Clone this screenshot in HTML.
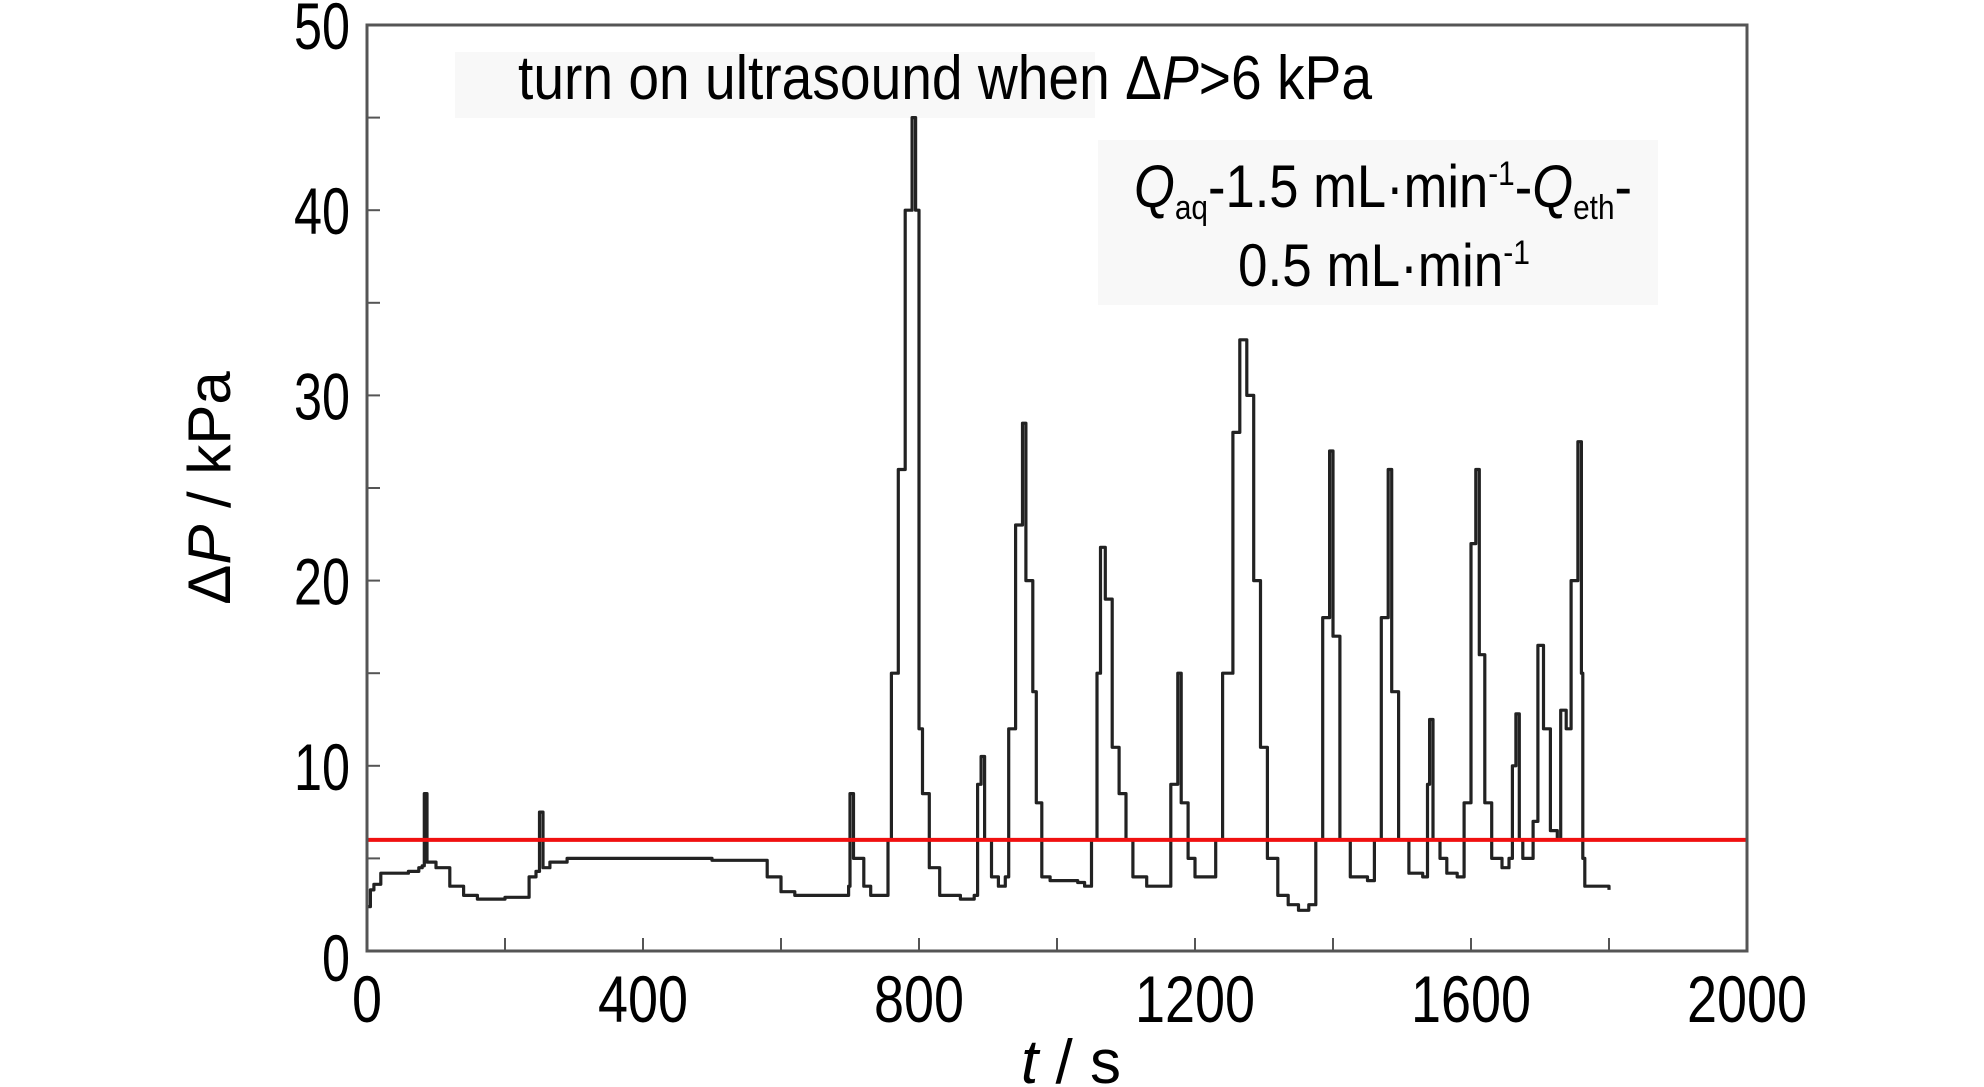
<!DOCTYPE html>
<html><head><meta charset="utf-8"><style>
html,body{margin:0;padding:0;background:#fff;}
svg{display:block;font-family:"Liberation Sans",sans-serif;}
</style></head><body>
<svg id="chart" width="1984" height="1087" viewBox="0 0 1984 1087" xmlns="http://www.w3.org/2000/svg">
<rect x="455" y="52" width="640" height="66" fill="#f8f8f8"/>
<rect x="1098" y="140" width="560" height="165" fill="#f8f8f8"/>
<g id="ticks"></g>
<path id="series" fill="none" stroke="#222" stroke-width="3.2" stroke-linejoin="round"/>
<line id="threshold" stroke="#f01010" stroke-width="4"/>
<rect x="367" y="25" width="1380" height="926" fill="none" stroke="#555" stroke-width="3"/>
<text x="518" y="99" font-size="62" textLength="854" lengthAdjust="spacingAndGlyphs">turn on ultrasound when Δ<tspan font-style="italic">P</tspan>&gt;6 kPa</text>
<text x="1134" y="207" font-size="60" textLength="498" lengthAdjust="spacingAndGlyphs"><tspan font-style="italic">Q</tspan><tspan font-size="34" dy="12">aq</tspan><tspan dy="-12">-1.5 mL·min</tspan><tspan font-size="34" dy="-22">-1</tspan><tspan dy="22">-</tspan><tspan font-style="italic">Q</tspan><tspan font-size="34" dy="12">eth</tspan><tspan dy="-12">-</tspan></text>
<text x="1238" y="286" font-size="60" textLength="292" lengthAdjust="spacingAndGlyphs">0.5 mL·min<tspan font-size="34" dy="-22">-1</tspan></text>
<text transform="translate(230,488) rotate(-90)" text-anchor="middle" font-size="60">Δ<tspan font-style="italic">P</tspan> / kPa</text>
<text x="1071" y="1083" text-anchor="middle" font-size="62"><tspan font-style="italic">t</tspan> / s</text>
</svg>
<script>
const xTicks=[0,400,800,1200,1600,2000];
const yTicks=[0,10,20,30,40,50];
const threshold=6;
const times=[0,5,10,20,40,60,75,80,83,87,100,120,140,160,200,230,235,245,250,255,265,290,400,500,560,580,600,620,690,698,700,705,720,730,750,755,760,770,780,790,795,800,805,815,830,860,880,885,890,895,905,915,925,930,940,950,955,965,970,978,990,1030,1040,1050,1058,1063,1070,1080,1090,1100,1110,1130,1160,1165,1175,1180,1190,1200,1220,1230,1240,1255,1265,1275,1285,1295,1305,1320,1335,1350,1365,1375,1385,1395,1400,1410,1425,1450,1460,1470,1480,1485,1495,1510,1530,1537,1540,1545,1555,1565,1580,1590,1600,1607,1612,1620,1630,1645,1655,1660,1665,1670,1675,1685,1690,1697,1705,1715,1725,1730,1738,1745,1755,1760,1762,1765,1800];
const pressures=[2.4,3.3,3.6,4.2,4.2,4.3,4.5,4.6,8.5,4.8,4.5,3.5,3.0,2.8,2.9,2.9,4.0,4.3,7.5,4.5,4.8,5.0,5.0,4.9,4.9,4.0,3.2,3.0,3.0,3.5,8.5,5.0,3.5,3.0,3.0,6,15,26,40,45,40,12,8.5,4.5,3.0,2.8,3.0,9,10.5,6,4,3.5,4,12,23,28.5,20,14,8,4,3.8,3.7,3.5,6,15,21.8,19,11,8.5,6,4,3.5,3.5,9,15,8,5,4,4,6,15,28,33,30,20,11,5,3.0,2.5,2.2,2.5,6,18,27,17,6,4,3.8,6,18,26,14,6,4.2,4,9,12.5,6,5,4.2,4,8,22,26,16,8,5,4.5,5,10,12.8,6,5,5,7,16.5,12,6.5,6,13,12,20,27.5,15,5,3.5,3.3];
const X0=367,X1=1747,Y0=951,Y1=25;
const sx=t=>X0+(t-0)/(2000-0)*(X1-X0);
const sy=v=>Y0-(v-0)/(50-0)*(Y0-Y1);
const NS="http://www.w3.org/2000/svg";
const g=document.getElementById('ticks');
function mk(tag,attrs){const e=document.createElementNS(NS,tag);for(const k in attrs)e.setAttribute(k,attrs[k]);return e;}
for(let v=5;v<50;v+=5){
  const l=mk('line',{x1:X0,x2:X0+13,y1:sy(v),y2:sy(v),stroke:'#555','stroke-width':2});
  
  
  g.appendChild(l);
}
for(let t=200;t<2000;t+=200){
  const l=mk('line',{x1:sx(t),x2:sx(t),y1:Y0,y2:Y0-13,stroke:'#555','stroke-width':2});
  
  
  g.appendChild(l);
}
yTicks.forEach(v=>{
  const tx=mk('text',{x:350,y:sy(v)+(v===0?30:24),'text-anchor':'end','font-size':66});
  
  
  tx.setAttribute('textLength',String(v).length*28);
  tx.setAttribute('lengthAdjust','spacingAndGlyphs');
  tx.textContent=v;g.appendChild(tx);
});
xTicks.forEach(t=>{
  const tx=mk('text',{x:sx(t),y:1022,'text-anchor':'middle','font-size':66});
  
  
  tx.setAttribute('textLength',String(t).length*30);
  tx.setAttribute('lengthAdjust','spacingAndGlyphs');
  tx.textContent=t;g.appendChild(tx);
});
let d='M'+sx(times[0]).toFixed(1)+','+sy(pressures[0]).toFixed(1);
for(let i=1;i<times.length;i++){
  d+=' H'+sx(times[i]).toFixed(1)+' V'+sy(pressures[i]).toFixed(1);
}
document.getElementById('series').setAttribute('d',d);
const th=document.getElementById('threshold');
th.setAttribute('x1',X0);th.setAttribute('x2',X1);
th.setAttribute('y1',sy(threshold));th.setAttribute('y2',sy(threshold));
</script>
</body></html>
